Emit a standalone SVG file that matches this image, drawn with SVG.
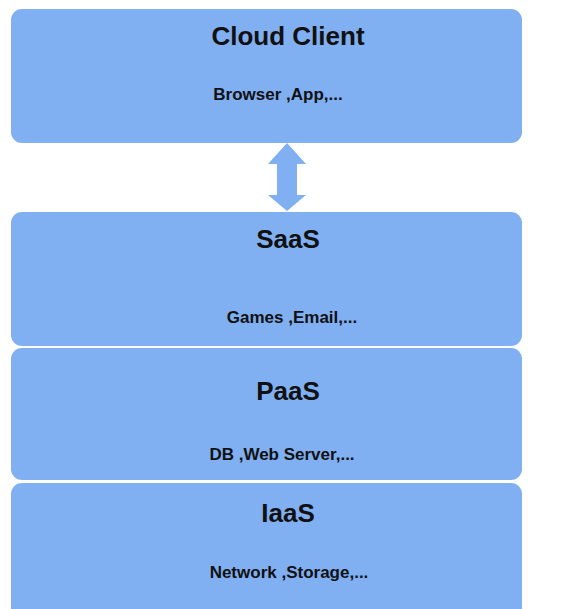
<svg xmlns="http://www.w3.org/2000/svg" width="568" height="609" viewBox="0 0 568 609">
<style>
.box{fill:#80aff2;}
.title{font-family:"Liberation Sans",Arial,sans-serif;font-weight:bold;font-size:26px;fill:#111;text-anchor:middle;}
.sub{font-family:"Liberation Sans",Arial,sans-serif;font-weight:bold;font-size:17px;fill:#111;text-anchor:middle;}
.arrow{fill:#80aff2;}
</style>
<rect width="568" height="609" fill="#ffffff"/>
<g id="cloud-client">
<rect class="box" x="11" y="9" width="511" height="134" rx="11"/>
<text class="title" x="288" y="45">Cloud Client</text>
<text class="sub" x="278" y="100">Browser ,App,...</text>
</g>
<g id="connectors">
<polygon class="arrow" points="287,143 306,164 297,164 297,195 306,195 287,211 268,195 277,195 277,164 268,164"/>
</g>
<g id="saas">
<rect class="box" x="11" y="212" width="511" height="134" rx="11"/>
<text class="title" x="288" y="248">SaaS</text>
<text class="sub" x="292" y="323">Games ,Email,...</text>
</g>
<g id="paas">
<rect class="box" x="11" y="348" width="511" height="132" rx="11"/>
<text class="title" x="288" y="400">PaaS</text>
<text class="sub" x="282" y="460">DB ,Web Server,...</text>
</g>
<g id="iaas">
<rect class="box" x="11" y="483" width="511" height="140" rx="11"/>
<text class="title" x="288" y="522">IaaS</text>
<text class="sub" x="289" y="578">Network ,Storage,...</text>
</g>
</svg>
